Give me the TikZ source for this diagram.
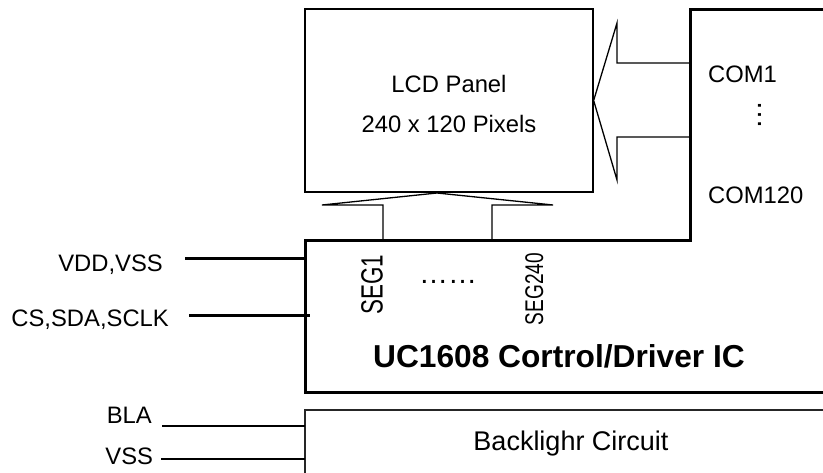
\documentclass[tikz,border=0pt]{standalone}
\usepackage{graphicx}
\usepackage{fontspec}
\setmainfont{Liberation Sans}
\begin{document}
\begin{tikzpicture}[x=1bp,y=-1bp,
  thinline/.style={line width=1.3bp},
  thickline/.style={line width=3bp},
  lbl/.style={inner sep=0pt, font=\fontsize{23.8bp}{28bp}\selectfont},
  line join=miter]
\useasboundingbox (0,0) rectangle (823,473);
\fill[white] (0,0) rectangle (823,473);

% LCD panel
\node[draw, thinline, minimum width=288bp, minimum height=183bp, inner sep=0pt] (lcd) at (449,100.5) {};
\node[lbl, anchor=base] (lcdt1) at (449,93) {LCD Panel};
\node[lbl, anchor=base] (lcdt2) at (449,133) {240 x 120 Pixels};

% IC outline
\coordinate (icTL) at (305,241);
\coordinate (icBL) at (305,392);
\coordinate (icBR) at (823,392);
\coordinate (comTop) at (690,10);
\coordinate (comR) at (823,10);
\draw[thickline] (comR) -- (comTop) -- (comTop |- icTL) -- (icTL) -- (icBL) -- (icBR);

% bottom (SEG) arrow
\draw[thinline] (383,241) -- (383,205) -- (322,205) -- (437,193) -- (553,205) -- (492,205) -- (492,241);
% right (COM) arrow
\draw[thinline] (690,63) -- (617,63) -- (617,23) -- (lcd.east) -- (617,180) -- (617,137) -- (690,137);

% COM labels
\node[lbl, anchor=base west] (com1) at (708,83) {COM1};
\node[lbl, anchor=base, rotate=90, font=\fontsize{29bp}{30bp}\selectfont] (comdots) at (761.5,115.5) {…};
\node[lbl, anchor=base west] (com120) at (708,204) {COM120};

% SEG labels
\node[inner sep=0pt, anchor=base, rotate=90, font=\fontsize{30.7bp}{32bp}\selectfont] (seg1) at (382.7,285) {\scalebox{0.73}[1]{SEG1}};
\node[inner sep=0pt, anchor=base, font=\fontsize{29bp}{30bp}\selectfont] (segdots) at (448,283.5) {……};
\node[inner sep=0pt, anchor=base, rotate=90, font=\fontsize{25.6bp}{27bp}\selectfont] (seg240) at (543,289) {\scalebox{0.745}[1]{SEG240}};

% IC title
\node[inner sep=0pt, anchor=base, font=\fontsize{31.7bp}{34bp}\selectfont\bfseries] (ictitle) at (559,368) {UC1608 Cortrol/Driver IC};

% Inputs
\node[lbl, anchor=base east] (vdd) at (163,271.7) {VDD,VSS};
\coordinate (vddin) at (185,259);
\draw[thickline] (vddin) -- (vddin -| icTL);
\node[lbl, anchor=base east] (cs) at (169,326.7) {CS,SDA,SCLK};
\coordinate (csin) at (189,316);
\coordinate (csend) at (310,316);
\draw[thickline] (csin) -- (csend);

% Backlight
\coordinate (blTL) at (305,410);
\coordinate (blTR) at (823,410);
\coordinate (blB) at (305,480);
\draw[line width=1.8bp, black!85] (blTR) -- (blTL) -- (blB);
\node[inner sep=0pt, anchor=base, font=\fontsize{27bp}{30bp}\selectfont] (bltext) at (571,450) {Backlighr Circuit};
\node[lbl, anchor=base east] (bla) at (152,423.3) {BLA};
\coordinate (blain) at (162,426);
\draw[line width=2bp] (blain) -- (blain -| blTL);
\node[lbl, anchor=base east] (vss) at (153.3,464) {VSS};
\coordinate (vssin) at (161,459);
\draw[line width=1.4bp] (vssin) -- (vssin -| blTL);
\end{tikzpicture}
\end{document}
